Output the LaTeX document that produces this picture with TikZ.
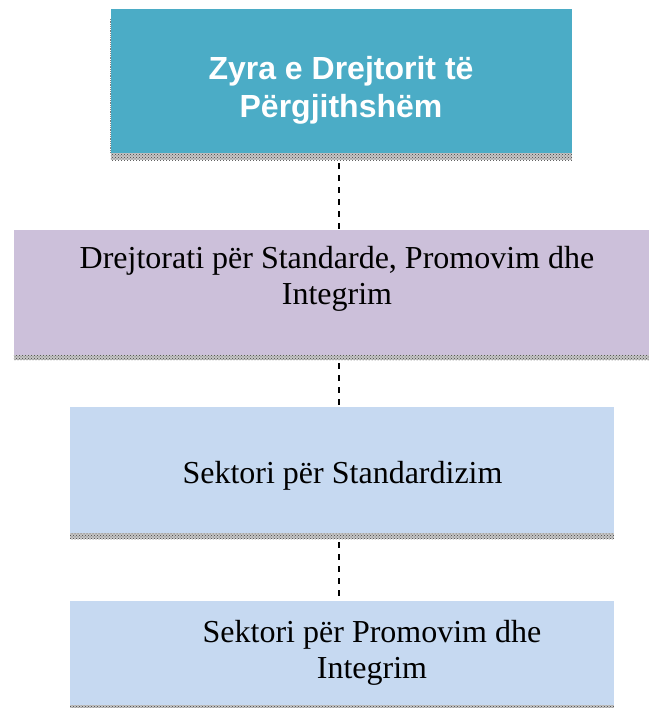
\documentclass[tikz,border=0pt]{standalone}
\usepackage{fontspec}
\setmainfont{Liberation Serif}
\setsansfont{Liberation Sans}
\usetikzlibrary{patterns}
\definecolor{zyrablue}{RGB}{75,172,198}
\definecolor{drejtlila}{RGB}{204,192,218}
\definecolor{sektorblue}{RGB}{198,217,241}

\begin{document}
\begin{tikzpicture}[x=1pt,y=-1pt,
  box/.style={inner sep=0pt, minimum width=#1},
  topbox/.style={box=461pt, fill=zyrablue, minimum height=144pt},
  midbox/.style={box=635pt, fill=drejtlila, minimum height=125pt},
  subbox/.style={box=544pt, fill=sektorblue},
  serif/.style={align=center, font=\fontsize{32}{36}\selectfont},
  shadowstrip/.style={fill=gray!45, postaction={pattern=crosshatch dots, pattern color=black!75}},
  link/.style={draw, line width=1.5pt, dash pattern=on 6pt off 6pt}
  ]
  \useasboundingbox (0,0) rectangle (649,708);

  % boxes
  \node[topbox] (zyra) at (341.5,81) {};
  \node[midbox] (drejt) at (331.5,292.5) {};
  \node[subbox, minimum height=126pt] (stand) at (342,470) {};
  \node[subbox, minimum height=104pt] (promo) at (342,653) {};
  \coordinate (axis) at (339,0);

  % grey strips under the boxes
  \fill[shadowstrip] (zyra.south west) rectangle ++(461,7);
  \fill[shadowstrip] (drejt.south west) rectangle ++(635,5);
  \fill[shadowstrip] (stand.south west) rectangle ++(544,6);
  \fill[shadowstrip] (promo.south west) rectangle ++(544,3);
  \draw[gray, densely dotted, line width=0.8pt] ([yshift=-10pt]zyra.north west) -- (zyra.south west);

  % texts
  \node[align=center, text=white, font=\sffamily\bfseries\fontsize{32}{38}\selectfont] (zyratxt) at (341,90)
    {Zyra e Drejtorit të\\Përgjithshëm};
  \node[serif] (drejttxt) at (337,279) {Drejtorati për Standarde, Promovim dhe\\Integrim};
  \node[serif] (standtxt) at (342.5,476) {Sektori për Standardizim};
  \node[serif] (promotxt) at (372,653) {Sektori për Promovim dhe\\Integrim};

  % links
  \path[link] ([yshift=-10pt]zyra.south -| axis) -- (drejt.north -| axis);
  \path[link] ([yshift=-8pt]drejt.south -| axis) -- (stand.north -| axis);
  \path[link] ([yshift=-9pt]stand.south -| axis) -- (promo.north -| axis);
\end{tikzpicture}
\end{document}
